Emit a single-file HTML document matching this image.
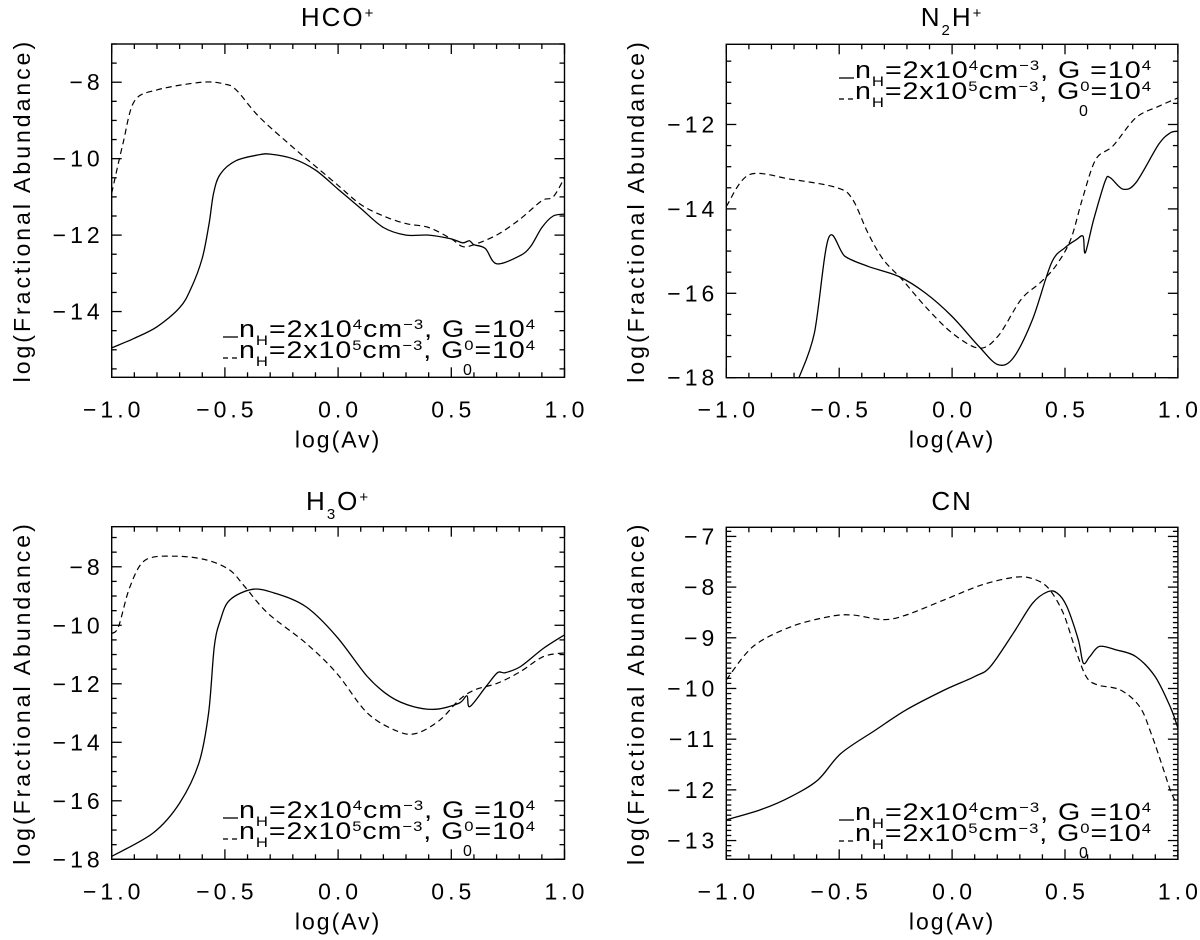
<!DOCTYPE html>
<html><head><meta charset="utf-8">
<style>
html,body{margin:0;padding:0;background:#fff;}
svg{display:block;font-family:"Liberation Sans",sans-serif;}
text{fill:#000;}
</style></head>
<body>
<svg id="fig" width="1200" height="940" viewBox="0 0 1200 940" xmlns="http://www.w3.org/2000/svg"></svg>
<script>
// ---- data (x = log(Av), y = log(Fractional Abundance)) ----
const hcoSolidX = [-1,-0.9,-0.8,-0.7,-0.65,-0.6,-0.57,-0.55,-0.52,-0.45,-0.35,-0.3,-0.2,-0.1,0,0.1,0.2,0.3,0.4,0.5,0.55,0.58,0.6,0.65,0.7,0.8,0.85,0.9,0.95,1.0];
const hcoSolidY = [-14.95,-14.7,-14.4,-13.9,-13.4,-12.6,-11.7,-10.9,-10.4,-10.05,-9.9,-9.88,-10.0,-10.3,-10.8,-11.3,-11.8,-12.0,-12.0,-12.1,-12.2,-12.15,-12.25,-12.35,-12.75,-12.55,-12.3,-11.8,-11.5,-11.45];
const hcoDashX = [-1,-0.95,-0.9,-0.8,-0.6,-0.5,-0.45,-0.35,-0.2,-0.1,0,0.1,0.2,0.3,0.4,0.5,0.55,0.6,0.7,0.8,0.9,0.95,1.0];
const hcoDashY = [-10.9,-9.6,-8.5,-8.2,-8.0,-8.05,-8.2,-8.9,-9.7,-10.2,-10.7,-11.2,-11.5,-11.7,-11.8,-12.1,-12.3,-12.25,-12.0,-11.6,-11.1,-11.0,-10.5];

const n2hSolidX = [-0.678,-0.61,-0.547,-0.475,-0.373,-0.237,-0.119,0,0.119,0.203,0.271,0.356,0.44,0.5,0.55,0.58,0.59,0.627,0.678,0.7,0.756,0.814,0.915,0.966,1.0];
const n2hSolidY = [-18,-16.94,-14.69,-15.12,-15.36,-15.6,-15.99,-16.55,-17.26,-17.69,-17.53,-16.62,-15.28,-14.92,-14.73,-14.65,-15.04,-14.25,-13.34,-13.26,-13.53,-13.38,-12.47,-12.2,-12.16];
const n2hDashX = [-1,-0.898,-0.712,-0.508,-0.44,-0.373,-0.305,-0.22,-0.119,0,0.119,0.203,0.305,0.39,0.458,0.525,0.576,0.636,0.712,0.814,0.915,1.0];
const n2hDashY = [-13.94,-13.19,-13.3,-13.5,-13.78,-14.57,-15.2,-15.68,-16.31,-16.94,-17.3,-17.02,-16.15,-15.75,-15.36,-14.73,-13.78,-12.83,-12.51,-11.84,-11.57,-11.37];

const h3oSolidX = [-1,-0.817,-0.7,-0.615,-0.572,-0.547,-0.52,-0.479,-0.378,-0.276,-0.141,-0.006,0.129,0.231,0.332,0.434,0.535,0.569,0.582,0.653,0.704,0.738,0.806,0.907,1.0];
const h3oSolidY = [-17.9,-17.1,-16.08,-14.71,-13.0,-10.73,-9.82,-9.14,-8.77,-8.91,-9.37,-10.39,-11.75,-12.44,-12.78,-12.87,-12.66,-12.41,-12.78,-12.1,-11.62,-11.62,-11.41,-10.79,-10.33];
const h3oDashX = [-1,-0.97,-0.919,-0.851,-0.716,-0.581,-0.479,-0.412,-0.31,-0.141,-0.006,0.129,0.265,0.349,0.451,0.535,0.603,0.704,0.806,0.907,1.0];
const h3oDashY = [-10.28,-10.05,-8.68,-7.77,-7.64,-7.77,-8.11,-8.68,-9.59,-10.62,-11.64,-13.0,-13.63,-13.69,-13.23,-12.55,-12.21,-11.98,-11.58,-11.07,-10.94];

const cnSolidX = [-1,-0.847,-0.712,-0.593,-0.492,-0.339,-0.203,-0.034,0.102,0.169,0.271,0.356,0.424,0.466,0.508,0.559,0.581,0.61,0.653,0.729,0.814,0.898,0.966,1.0];
const cnSolidY = [-12.59,-12.39,-12.13,-11.8,-11.28,-10.82,-10.42,-10.03,-9.76,-9.57,-8.91,-8.32,-8.09,-8.12,-8.38,-9.04,-9.5,-9.37,-9.17,-9.24,-9.37,-9.76,-10.36,-10.78];
const cnDashX = [-1,-0.881,-0.712,-0.542,-0.441,-0.305,-0.203,-0.034,0.136,0.288,0.373,0.432,0.492,0.542,0.593,0.644,0.746,0.831,0.881,0.932,0.966,0.992];
const cnDashY = [-9.83,-9.17,-8.78,-8.58,-8.55,-8.64,-8.55,-8.25,-7.95,-7.8,-7.86,-8.05,-8.51,-9.17,-9.76,-9.93,-10.03,-10.36,-10.88,-11.54,-12.0,-12.26];

const xTickLabels = ["−1.0","−0.5","0.0","0.5","1.0"];
const xTickValues = [-1,-0.5,0,0.5,1];
const yTicksHCO = [-14,-12,-10,-8];
const yTicksN2H = [-18,-16,-14,-12];
const yTicksH3O = [-18,-16,-14,-12,-10,-8];
const yTicksCN = [-13,-12,-11,-10,-9,-8,-7];

const NS = "http://www.w3.org/2000/svg";
const svg = document.getElementById('fig');
function mk(tag, attrs, parent){
  const e = document.createElementNS(NS, tag);
  for (const k in attrs) e.setAttribute(k, attrs[k]);
  (parent||svg).appendChild(e);
  return e;
}

const panels = [
  {key:'hco', title:[['HCO',0],['+',-1]], L:111.7,R:564.5,T:44,B:377.3, ymin:-15.72,ymax:-7.0, yt:yTicksHCO, ymin2:0.5,
   sx:hcoSolidX, sy:hcoSolidY, dx:hcoDashX, dy:hcoDashY, titleY:24, legX:223, legY:337, ytX:30},
  {key:'n2h', title:[['N',0],['2',1],['H',0],['+',-1]], L:726.3,R:1177.9,T:44.3,B:377.7, ymin:-18,ymax:-10.1, yt:yTicksN2H, ymin2:0.5,
   sx:n2hSolidX, sy:n2hSolidY, dx:n2hDashX, dy:n2hDashY, titleY:24, legX:839, legY:78, ytX:644},
  {key:'h3o', title:[['H',0],['3',1],['O',0],['+',-1]], L:111.7,R:564.5,T:526.7,B:859.3, ymin:-18,ymax:-6.63, yt:yTicksH3O, ymin2:0.5,
   sx:h3oSolidX, sy:h3oSolidY, dx:h3oDashX, dy:h3oDashY, titleY:508, legX:223, legY:818, ytX:30},
  {key:'cn', title:[['CN',0]], L:726.3,R:1177.9,T:527.3,B:859.3, ymin:-13.37,ymax:-6.82, yt:yTicksCN, ymin2:0.1,
   sx:cnSolidX, sy:cnSolidY, dx:cnDashX, dy:cnDashY, titleY:508, legX:839, legY:820, ytX:644}
];

function ln(g,x1,y1,x2,y2){
  return mk('line',{x1:x1,y1:y1,x2:x2,y2:y2,stroke:'#000','stroke-width':1.3},g);
}
function smoothPath(pts){
  let d = 'M'+pts[0][0].toFixed(1)+' '+pts[0][1].toFixed(1);
  const k = 0.16;
  for (let i=0;i<pts.length-1;i++){
    const p0 = pts[Math.max(0,i-1)], p1 = pts[i], p2 = pts[i+1], p3 = pts[Math.min(pts.length-1,i+2)];
    const c1x = p1[0]+(p2[0]-p0[0])*k, c1y = p1[1]+(p2[1]-p0[1])*k;
    const c2x = p2[0]-(p3[0]-p1[0])*k, c2y = p2[1]-(p3[1]-p1[1])*k;
    d += ' C'+c1x.toFixed(1)+' '+c1y.toFixed(1)+' '+c2x.toFixed(1)+' '+c2y.toFixed(1)+' '+p2[0].toFixed(1)+' '+p2[1].toFixed(1);
  }
  return d;
}

panels.forEach(p=>{
  const g = mk('g',{});
  
  
  const X = v => p.L + (v+1)/2*(p.R-p.L);
  const Y = v => p.B - (v-p.ymin)/(p.ymax-p.ymin)*(p.B-p.T);

  const t = mk('text',{x:(p.L+p.R)/2, y:p.titleY+2, 'font-size':26, 'text-anchor':'middle','letter-spacing':2},g);
  
  
  p.title.forEach(([s,sh])=>{
    const ts = mk('tspan',{},t);
    if (sh!==0){ ts.setAttribute('font-size',15); ts.setAttribute('baseline-shift', sh<0?'super':'sub'); }
    ts.textContent = s;
  });

  const fr = mk('rect',{x:p.L,y:p.T,width:p.R-p.L,height:p.B-p.T,fill:'none',stroke:'#000','stroke-width':1.4},g);
  
  

  const xt = mk('g',{},g);
  
  
  for (let i=0;i<=20;i++){
    const v = -1 + i*0.1, px = X(v), len = (i%5===0)?10:5;
    ln(xt,px,p.B,px,p.B-len); ln(xt,px,p.T,px,p.T+len);
  }
  xTickValues.forEach((v,i)=>{
    const tl = mk('text',{x:X(v)+2, y:p.B+40, 'font-size':23,'text-anchor':'middle','letter-spacing':4},xt);
    
    
    tl.textContent = xTickLabels[i];
  });
  const xl = mk('text',{x:(p.L+p.R)/2, y:p.B+70, 'font-size':23,'text-anchor':'middle','letter-spacing':2},g);
  
  
  xl.textContent = 'log(Av)';

  const yt = mk('g',{},g);
  
  
  const start = Math.ceil(p.ymin/p.ymin2 - 1e-6), end = Math.floor(p.ymax/p.ymin2 + 1e-6);
  for (let k=start;k<=end;k++){
    const v = k*p.ymin2, py = Y(v);
    const major = p.yt.some(m=>Math.abs(m-v)<1e-6);
    const len = major?10:5;
    ln(yt,p.L,py,p.L+len,py); ln(yt,p.R,py,p.R-len,py);
  }
  p.yt.forEach(v=>{
    const tl = mk('text',{x:p.L-8, y:Y(v)+8, 'font-size':23,'text-anchor':'end','letter-spacing':4},yt);
    
    
    tl.textContent = String(v).replace('-','−');
  });
  const cy = (p.T+p.B)/2;
  const yl = mk('text',{x:p.ytX, y:cy, 'font-size':23,'text-anchor':'middle','letter-spacing':3, transform:'rotate(-90 '+p.ytX+' '+cy+')'},g);
  
  
  yl.textContent = 'log(Fractional Abundance)';

  const cp = mk('clipPath',{id:'clip-'+p.key},g);
  mk('rect',{x:p.L,y:p.T,width:p.R-p.L,height:p.B-p.T},cp);

  const pts = (xs,ys)=> xs.map((x,i)=>[X(x),Y(ys[i])]);
  const s = mk('path',{d:smoothPath(pts(p.sx,p.sy)),fill:'none',stroke:'#000','stroke-width':1.3,'stroke-linejoin':'round','clip-path':'url(#clip-'+p.key+')'},g);
  
  
  const d = mk('path',{d:smoothPath(pts(p.dx,p.dy)),fill:'none',stroke:'#000','stroke-width':1.2,'stroke-dasharray':'6 4','clip-path':'url(#clip-'+p.key+')'},g);
  
  

  const lg = mk('g',{},g);
  
  
  const x0 = p.legX, y1 = p.legY, y2 = p.legY+21;
  ln(lg,x0,y1,x0+15,y1);
  ln(lg,x0,y2,x0+5,y2); ln(lg,x0+9,y2,x0+14,y2);
  const lines = [
    [['n',0],['H',1],['=2x10',0],['4',-1],['cm',0],['−3',-1],[',  G',0],[' ',0],['=10',0],['4',-1]],
    [['n',0],['H',1],['=2x10',0],['5',-1],['cm',0],['−3',-1],[',  G',0],['0',-1],['=10',0],['4',-1]]
  ];
  lines.forEach((parts,li)=>{
    const tx = mk('text',{x:x0+16, y:li?y2:y1, 'font-size':24,'letter-spacing':0.8, textLength:297, lengthAdjust:'spacingAndGlyphs'},lg);
    
    
    parts.forEach(([str,sh])=>{
      const ts = mk('tspan',{},tx);
      if (sh!==0){ ts.setAttribute('font-size',14); ts.setAttribute('baseline-shift', sh<0?'super':'sub'); }
      ts.textContent = str;
    });
  });
  const sub0 = mk('text',{x:x0+240, y:y2+17, 'font-size':16},lg);
  
  
  sub0.textContent = '0';
});
</script>
</body></html>
